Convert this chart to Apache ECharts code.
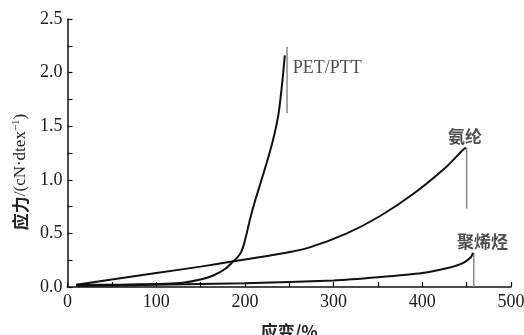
<!DOCTYPE html>
<html><head><meta charset="utf-8">
<script src="https://cdn.jsdelivr.net/npm/echarts@6/dist/echarts.min.js"></script>
<style>html,body{margin:0;padding:0;background:#fff}#c{width:524px;height:335px}</style>
</head><body><div id="c"></div>
<script>
const xTicks = [0, 100, 200, 300, 400, 500];
const yTicks = [0.0, 0.5, 1.0, 1.5, 2.0, 2.5];
const petPtt = [[10,0.02],[40,0.02],[80,0.025],[110,0.03],[130,0.04],[150,0.07],[165,0.11],[178,0.17],[187,0.24],[192,0.28],[196,0.33],[199,0.4],[202,0.5],[206,0.64],[211,0.79],[218,0.98],[225,1.17],[232,1.38],[238,1.62],[242,1.9],[245,2.16]];
const spandex = [[10,0.02],[50,0.07],[100,0.13],[150,0.19],[187,0.24],[240,0.31],[273,0.37],[315,0.5],[352,0.66],[390,0.87],[427,1.12],[446,1.28],[449,1.30]];
const polyolefin = [[10,0.01],[100,0.02],[200,0.035],[300,0.06],[350,0.09],[400,0.13],[430,0.18],[445,0.22],[455,0.28],[457,0.32]];
const markPet = [[247.5,2.24],[247.5,1.62]];
const markSpandex = [[450,1.30],[450,0.73]];
const markPoly = [[458,0.32],[458,0.0]];
const labelNames = ['PET/PTT','氨纶','聚烯烃'];
const labelPos = [[254,2.04],[448,1.40],[468,0.42]];

const chart = echarts.init(document.getElementById('c'));
const serif = 'Liberation Serif, Times New Roman, Noto Sans CJK SC';
const curve = (d) => ({type:'line', data:d, smooth:0.2, symbol:'none', lineStyle:{color:'#111', width:2}, z:3});
const mark = (d) => ({type:'line', data:d, symbol:'none', lineStyle:{color:'#888', width:1.5}, z:2});
chart.setOption({
  animation:false,
  grid:{left:67.5, right:13, top:19, bottom:48, containLabel:false, outerBoundsMode:'none'},
  xAxis:{type:'value', min:xTicks[0], max:xTicks[xTicks.length-1], interval:100,
    name:'应变/%', nameLocation:'middle', nameGap:36,
    nameTextStyle:{fontFamily:'Noto Sans CJK SC', fontWeight:'bold', fontSize:17, color:'#222'},
    axisLine:{lineStyle:{color:'#111', width:1.5}},
    axisTick:{inside:true, length:5, lineStyle:{color:'#111', width:1.2}},
    minorTick:{show:true, splitNumber:2, length:5, lineStyle:{color:'#111', width:1.2}},
    axisLabel:{fontFamily:serif, fontSize:18, color:'#1a1a1a', margin:6},
    splitLine:{show:false}},
  yAxis:{type:'value', min:yTicks[0], max:yTicks[yTicks.length-1], interval:0.5,
    name:'{b|应力}/(cN·dtex{s|−1})', nameLocation:'middle', nameGap:28, nameRotate:90,
    nameTextStyle:{fontFamily:serif, fontSize:17, color:'#222', padding:[0,38,0,0],
      rich:{b:{fontFamily:'Noto Sans CJK SC', fontWeight:'bold', fontSize:17, color:'#222'},
            s:{fontFamily:serif, fontSize:11, color:'#222', verticalAlign:'top', padding:[0,0,8,0]}}},
    axisLine:{show:true, lineStyle:{color:'#111', width:1.5}},
    axisTick:{show:true, inside:true, length:5, lineStyle:{color:'#111', width:1.2}},
    minorTick:{show:true, splitNumber:2, length:5, lineStyle:{color:'#111', width:1.2}},
    axisLabel:{fontFamily:serif, fontSize:18, color:'#1a1a1a', margin:5, formatter:v=>v.toFixed(1)},
    splitLine:{show:false}},
  series:[
    curve(petPtt), curve(spandex), curve(polyolefin),
    mark(markPet), mark(markSpandex), mark(markPoly),
    {type:'scatter', symbolSize:0, z:5,
     data:labelPos.map((p,i)=>({value:p, name:labelNames[i],
       label: i===0 ? {position:'right', distance:0, fontFamily:serif, fontSize:18}
                    : {position:'inside', fontFamily:'Noto Sans CJK SC', fontWeight:'bold', fontSize:17}})),
     label:{show:true, formatter:p=>p.name, color:'#222'},
     emphasis:{disabled:true}}
  ]
});
</script></body></html>
